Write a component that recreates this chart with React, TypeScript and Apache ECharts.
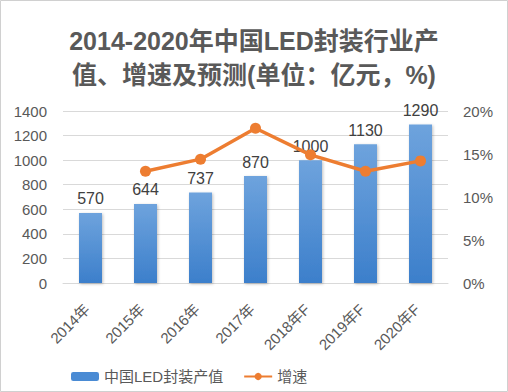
import React, { useEffect, useRef } from "react";
import * as echarts from "echarts";

const categories = ["2014年", "2015年", "2016年", "2017年", "2018年F", "2019年F", "2020年F"];
const outputValues = [570, 644, 737, 870, 1000, 1130, 1290];
const growthValues: (number | null)[] = [null, 13.0, 14.4, 18.0, 14.9, 13.0, 14.2];
const leftTicks = { min: 0, max: 1400, interval: 200 };
const rightTicks = { min: 0, max: 20, interval: 5 };

const FONT = "'Liberation Sans', 'Noto Sans CJK SC', sans-serif";

export default function App() {
  const ref = useRef<HTMLDivElement>(null);
  useEffect(() => {
    if (!ref.current) return;
    const chart = echarts.init(ref.current, undefined, { renderer: "svg" });
    chart.setOption({
      animation: false,
      backgroundColor: "#ffffff",
      textStyle: { fontFamily: FONT },
      graphic: [
        {
          type: "rect",
          shape: { x: 0.5, y: 0.5, width: 507, height: 391 },
          style: { fill: "none", stroke: "#d0d0d0", lineWidth: 1 },
          silent: true,
        },
      ],
      title: {
        text: "2014-2020年中国LED封装行业产\n值、增速及预测(单位：亿元，%)",
        left: "center",
        top: 24,
        padding: 0,
        textStyle: {
          fontFamily: FONT,
          fontSize: 25,
          fontWeight: "bold",
          color: "#595959",
          lineHeight: 34,
        },
      },
      legend: {
        left: 71,
        top: 369,
        padding: 0,
        itemWidth: 28,
        itemHeight: 9,
        itemGap: 20,
        textStyle: { fontFamily: FONT, fontSize: 15, color: "#595959" },
        data: [
          { name: "中国LED封装产值", itemStyle: { color: "#4a8bd4" } },
          { name: "增速" },
        ],
      },
      grid: { left: 63, right: 60, top: 111, bottom: 109, containLabel: false },
      xAxis: {
        type: "category",
        data: categories,
        axisLine: { show: true, lineStyle: { color: "#d9d9d9" } },
        axisTick: { show: false },
        axisLabel: {
          rotate: 45,
          fontSize: 15,
          color: "#595959",
          fontFamily: FONT,
          margin: 20,
          padding: [0, 5, 0, 0],
          interval: 0,
        },
      },
      yAxis: [
        {
          type: "value",
          min: leftTicks.min,
          max: leftTicks.max,
          interval: leftTicks.interval,
          axisLine: { show: false },
          axisTick: { show: false },
          splitLine: { lineStyle: { color: "#d9d9d9" } },
          axisLabel: {
            fontSize: 15,
            color: "#595959",
            margin: 16,
            fontFamily: FONT,
            formatter: (v: number) => String(v),
          },
        },
        {
          type: "value",
          min: rightTicks.min,
          max: rightTicks.max,
          interval: rightTicks.interval,
          axisLine: { show: false },
          axisTick: { show: false },
          splitLine: { show: false },
          axisLabel: { fontSize: 15, color: "#595959", margin: 15, formatter: "{value}%", fontFamily: FONT },
        },
      ],
      series: [
        {
          name: "中国LED封装产值",
          type: "bar",
          data: outputValues,
          barWidth: 23,
          itemStyle: {
            color: new echarts.graphic.LinearGradient(0, 0, 0, 1, [
              { offset: 0, color: "#6ea3dd" },
              { offset: 1, color: "#3c7fcb" },
            ]),
            shadowColor: "rgba(0,0,0,0.25)",
            shadowBlur: 3,
            shadowOffsetX: 1,
            shadowOffsetY: 1,
          },
          label: {
            show: true,
            position: "top",
            distance: 6,
            fontSize: 16,
            color: "#404040",
            fontFamily: FONT,
          },
        },
        {
          name: "增速",
          type: "line",
          yAxisIndex: 1,
          data: growthValues,
          symbol: "circle",
          symbolSize: 11,
          lineStyle: { color: "#ED7D31", width: 3.5 },
          itemStyle: { color: "#ED7D31" },
          z: 5,
        },
      ],
    });
    return () => chart.dispose();
  }, []);
  return (
    <div
      ref={ref}
      style={{ position: "fixed", left: 0, top: 0, width: 508, height: 392 }}
    />
  );
}
